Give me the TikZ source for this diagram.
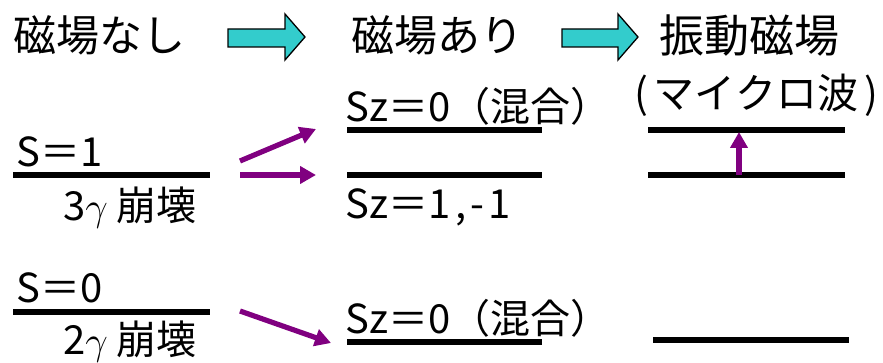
\RequirePackage{fix-cm}
\documentclass[tikz,border=0pt]{standalone}
\usepackage{fontspec}
\setmainfont{Noto Sans CJK JP}
\usetikzlibrary{arrows.meta}
\definecolor{cyanfill}{HTML}{33CCCC}
\definecolor{purp}{HTML}{800080}
\begin{document}
\begin{tikzpicture}[x=1pt,y=-1pt,
  lbl/.style={anchor=base west, inner sep=0pt, font=\fontsize{40}{48}\selectfont},
  hdr/.style={anchor=base west, inner sep=0pt, font=\fontsize{43}{50}\selectfont},
  level/.style={line width=5.5pt},
  trans/.style={draw=purp, line width=5.2pt, -{Triangle[length=16pt,width=17pt]}},
  bigarrow/.style={draw=black, line width=1.3pt, fill=cyanfill, line join=miter}]
\useasboundingbox (0,0) rectangle (883,363);

% headers
\node[hdr] (h1) at (13,52) {磁場なし};
\node[hdr] (h2) at (351,52) {磁場あり};
\node[hdr, font=\fontsize{45}{52}\selectfont] (h3) at (659,53) {振動磁場};
\node[anchor=base, inner sep=0pt, font=\fontsize{41}{50}\selectfont] (h4) at (756,109) {(\hspace{6pt}マイクロ波\hspace{6pt})};

% block arrows
\draw[bigarrow] (228,29) -- (285,29) -- (285,14) -- (305,37) -- (285,60) -- (285,47) -- (228,47) -- cycle;
\draw[bigarrow] (562,29) -- (618,29) -- (618,14) -- (638,37) -- (618,60) -- (618,47) -- (562,47) -- cycle;

% left column
\node[lbl] (s1) at (16,167) {S＝1};
\node[lbl] (d3) at (63,221) {3\(\gamma\) 崩壊};
\node[lbl] (s0) at (16,302) {S＝0};
\node[lbl] (d2) at (63,354) {2\smash{\(\gamma\)} 崩壊};
\draw[level] (13,175) coordinate (l1a) -- (210,175) coordinate (l1b);
\draw[level] (13,312) coordinate (l0a) -- (210,312) coordinate (l0b);

% middle column
\node[lbl] (m0) at (345,122) {Sz＝0（混合）};
\node[lbl] (m1) at (345,219) {Sz＝1\hspace{5pt},\hspace{4pt}-\hspace{4pt}1};
\node[lbl] (m0b) at (345,333) {Sz＝0（混合）};
\draw[level] (347,130) coordinate (mAa) -- (542,130) coordinate (mAb);
\draw[level] (347,175) coordinate (mBa) -- (542,175) coordinate (mBb);
\draw[level] (347,342) coordinate (mCa) -- (542,342) coordinate (mCb);

% right column
\draw[level] (648,130) coordinate (rAa) -- (845,130) coordinate (rAb);
\draw[level] (648,175) coordinate (rBa) -- (845,175) coordinate (rBb);
\draw[level] (653,340) coordinate (rCa) -- (849,340) coordinate (rCb);

% transitions
\coordinate (t1s) at (240,161); \coordinate (t1e) at (316,129);
\coordinate (t2s) at (240,175); \coordinate (t2e) at (316,175);
\coordinate (t3s) at (240,311); \coordinate (t3e) at (331,343);
\coordinate (u1s) at (739,175); \coordinate (u1e) at (739,132);
\draw[trans] (t1s) -- (t1e);
\draw[trans] (t2s) -- (t2e);
\draw[trans] (t3s) -- (t3e);
\draw[trans] (u1s) -- (u1e);
\end{tikzpicture}
\end{document}
